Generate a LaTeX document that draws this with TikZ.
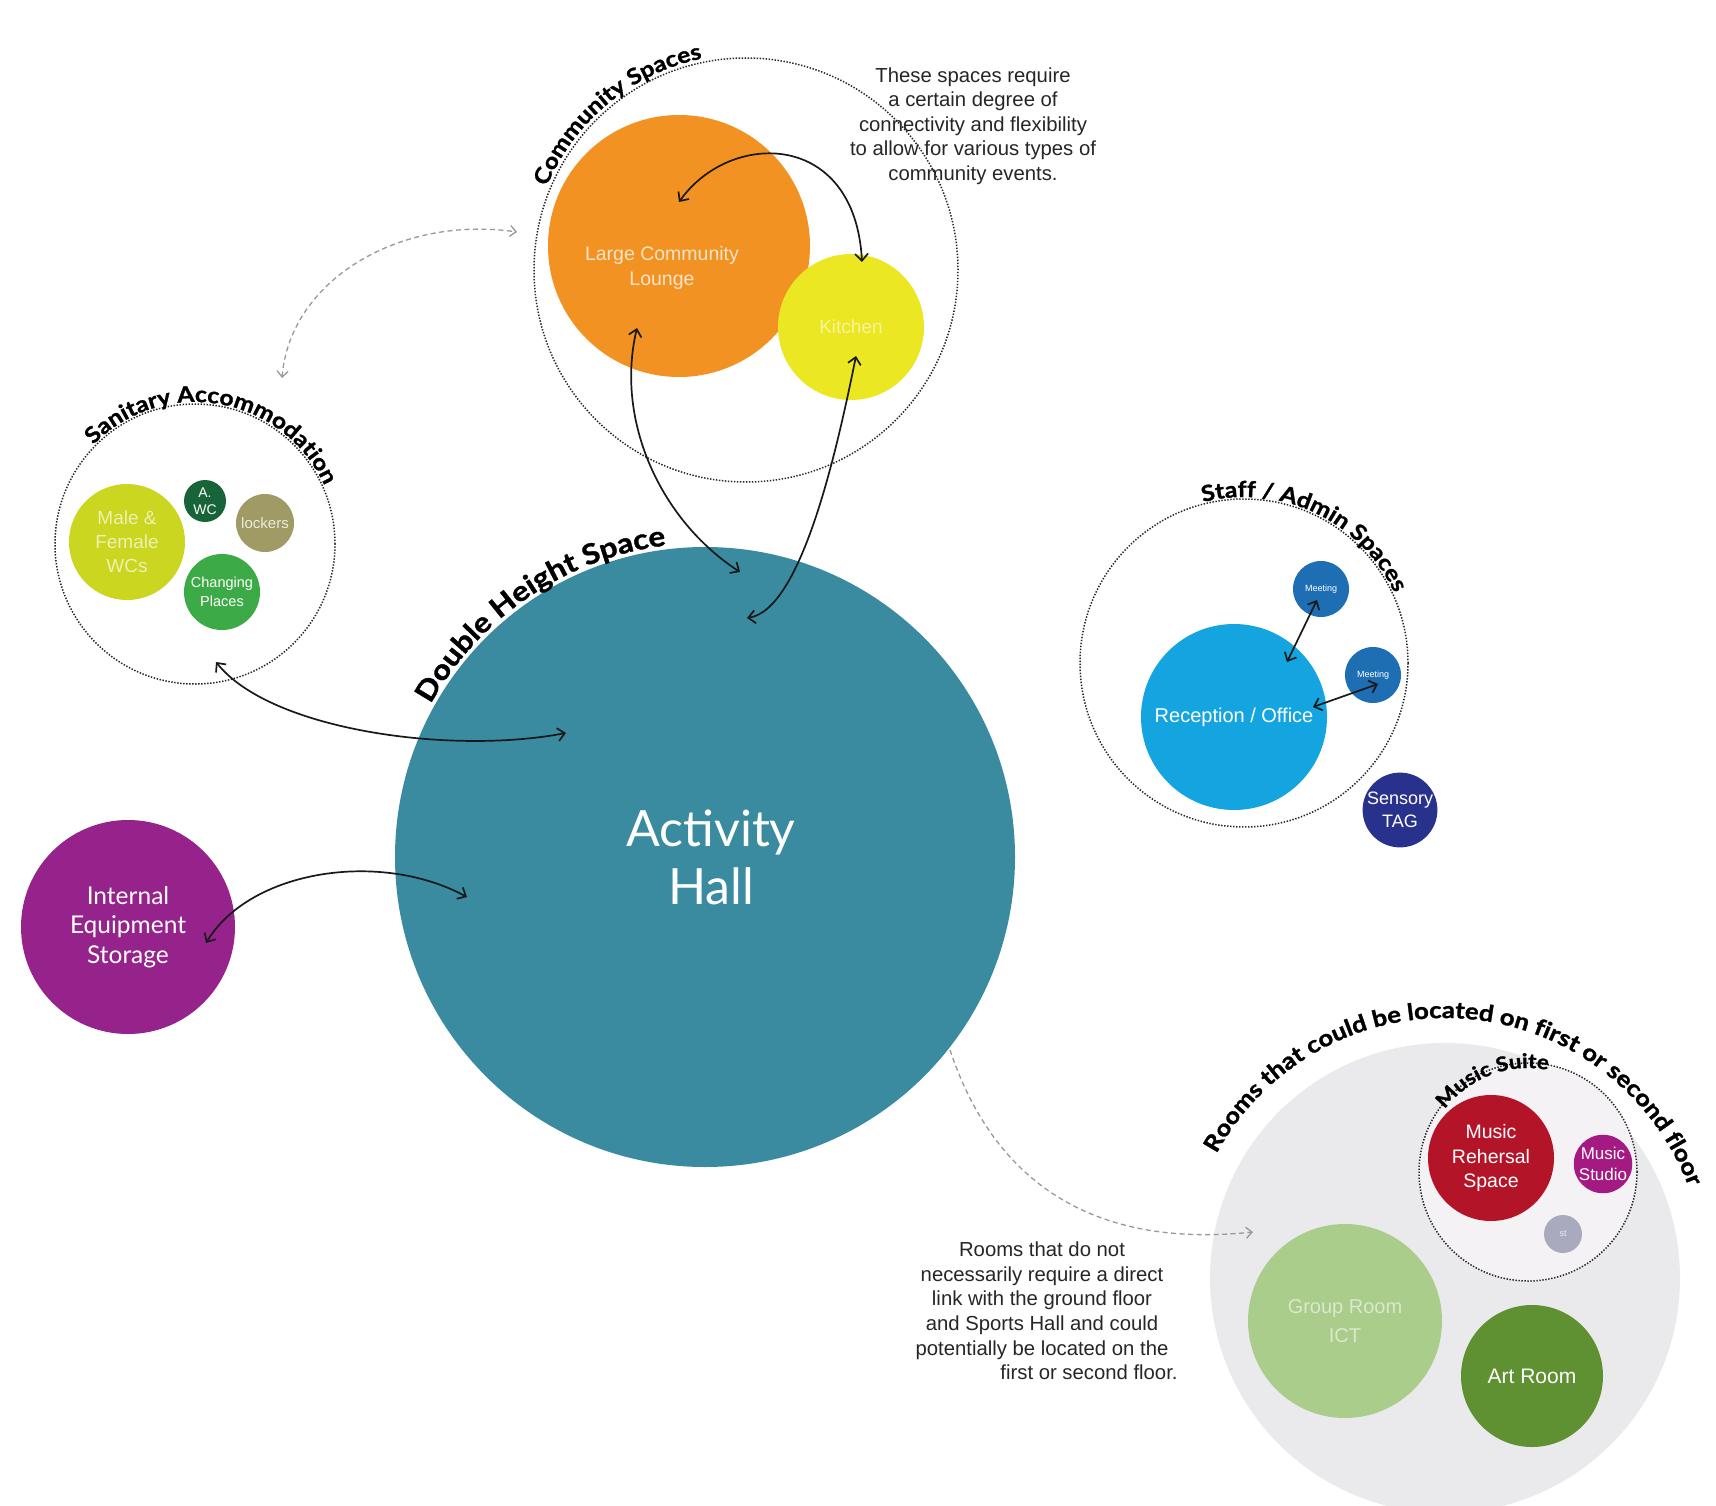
\documentclass[tikz,border=0pt]{standalone}
\usepackage{fontspec}
\setmainfont{Liberation Sans}
\newfontfamily\latofont{Lato}
\newfontfamily\titlefamily[FakeStretch=1.12,FakeBold=1.3]{Lato}
\usetikzlibrary{arrows.meta,decorations.text}
\definecolor{hallteal}{RGB}{58,139,160}
\definecolor{orangec}{RGB}{242,146,35}
\definecolor{yellowc}{RGB}{236,231,35}
\definecolor{ygreen}{RGB}{203,214,32}
\definecolor{dkgreen}{RGB}{22,100,55}
\definecolor{khaki}{RGB}{160,155,100}
\definecolor{chgreen}{RGB}{60,170,70}
\definecolor{lblue}{RGB}{20,165,225}
\definecolor{mblue}{RGB}{30,110,180}
\definecolor{navyc}{RGB}{40,50,140}
\definecolor{purplec}{RGB}{150,35,140}
\definecolor{crimson}{RGB}{180,20,40}
\definecolor{magentac}{RGB}{165,25,130}
\definecolor{greyc}{RGB}{170,170,190}
\definecolor{lgreen}{RGB}{170,205,140}
\definecolor{artgreen}{RGB}{95,145,50}
\definecolor{biggrey}{RGB}{234,234,237}
\definecolor{musicbg}{RGB}{244,242,245}
\newcommand\ttlA{\titlefamily\bfseries\fontsize{28}{32}\selectfont}
\newcommand\ttlB{\titlefamily\bfseries\fontsize{22}{26}\selectfont}
\newcommand\ttlC{\titlefamily\bfseries\fontsize{20}{24}\selectfont}
\newcommand\ttlD{\titlefamily\bfseries\fontsize{23}{27}\selectfont}
\begin{document}
\begin{tikzpicture}[x=1pt,y=1pt,
  room/.style={circle,inner sep=0pt,align=center,text=white},
  grp/.style={circle,draw=black!85,line width=1.5pt,dash pattern=on 1.4pt off 1.6pt,inner sep=0pt},
  link/.style={{Straight Barb[length=7pt,width=13pt]}-{Straight Barb[length=7pt,width=13pt]},line width=1.7pt,draw=black!90},
  dlink/.style={line width=1.3pt,draw=black!40,dash pattern=on 5pt off 3.5pt},
  note/.style={align=center,text=black!85,font=\fontsize{20.3}{24.6}\selectfont},
]
\fill[white] (0,0) rectangle (1716,-1506);
\path[use as bounding box] (0,0) rectangle (1716,-1506);

% ---- rooms on upper floors
\node[circle,fill=biggrey,minimum size=470pt,inner sep=0pt] (roomsbg) at (1445,-1278) {};
\node[grp,fill=musicbg,minimum size=218pt] (music) at (1528,-1172) {};
\node[room,fill=crimson,minimum size=126pt,font=\fontsize{19.5}{24.5}\selectfont] (rehearsal) at (1491,-1158) {Music\\Rehersal\\Space};
\node[room,fill=magentac,minimum size=58pt,font=\fontsize{17}{21}\selectfont] (studio) at (1603,-1164) {Music\\Studio};
\node[room,fill=greyc,minimum size=38pt,font=\fontsize{9}{10}\selectfont,text=white!75!greyc] (smallgrey) at (1563,-1234) {st};
\node[room,fill=lgreen,minimum size=194pt,font=\fontsize{20}{29}\selectfont,text=white!55!lgreen] (grouproom) at (1345,-1321) {Group Room\\ICT};
\node[room,fill=artgreen,minimum size=142pt,font=\fontsize{21}{25}\selectfont] (art) at (1532,-1376) {Art Room};

% ---- activity hall
\node[room,fill=hallteal,minimum size=620pt,font=\latofont\fontsize{50}{58}\selectfont] (hall) at (705,-857) {\hspace*{12pt}Activity\\\hspace*{12pt}Hall};

% ---- community
\node[grp,minimum size=424pt] (comm) at (746,-270) {};
\node[room,fill=orangec,minimum size=262pt] (lounge) at (679,-246) {};
\node[align=center,text=white!75!orangec,font=\fontsize{19.5}{25}\selectfont] (loungelbl) at (662,-268) {Large Community\\Lounge};
\node[room,fill=yellowc,minimum size=146pt,font=\fontsize{19}{23}\selectfont,text=white!55!yellowc] (kitchen) at (851,-327) {Kitchen};

% ---- sanitary
\node[grp,minimum size=280pt] (san) at (195,-544) {};
\node[room,fill=ygreen,minimum size=116pt,font=\fontsize{19}{24}\selectfont,text=white!65!ygreen] (wcs) at (127,-542) {Male \&\\Female\\WCs};
\node[room,fill=dkgreen,minimum size=42pt,font=\fontsize{14}{17}\selectfont] (awc) at (205,-501) {A.\\WC};
\node[room,fill=khaki,minimum size=58pt,font=\fontsize{15}{18}\selectfont,text=white!80!khaki] (lockers) at (265,-523) {lockers};
\node[room,fill=chgreen,minimum size=76pt,font=\fontsize{14.5}{19}\selectfont] (changing) at (222,-592) {Changing\\Places};

% ---- staff
\node[grp,minimum size=328pt] (staff) at (1244,-663) {};
\node[room,fill=lblue,minimum size=186pt,font=\fontsize{20}{24}\selectfont] (reception) at (1234,-717) {Reception / Office};
\node[room,fill=mblue,minimum size=56pt,font=\fontsize{9}{11}\selectfont] (meet1) at (1321,-589) {Meeting};
\node[room,fill=mblue,minimum size=56pt,font=\fontsize{9}{11}\selectfont] (meet2) at (1373,-675) {Meeting};
\node[room,fill=navyc,minimum size=74pt,font=\fontsize{18}{23}\selectfont] (sensory) at (1400,-810) {Sensory\\TAG};

% ---- storage
\node[room,fill=purplec,minimum size=214pt,font=\latofont\fontsize{24.5}{29.5}\selectfont] (storage) at (128,-927) {Internal\\Equipment\\Storage};

% ---- notes
\node[note] (note1) at (973,-126) {These spaces require\\a certain degree of\\connectivity and flexibility\\to allow for various types of\\community events.};
\node[note] (note2) at (1042,-1311) {Rooms that do not\\necessarily require a direct\\link with the ground floor\\and Sports Hall and could\\potentially be located on the\\\hspace*{94pt}first or second floor.};

% ---- curved titles
\path[decorate,decoration={text along path,text align=center,text={|\ttlA|Double Height Space}}]
  (hall.center) ++(169:314) arc[start angle=169,end angle=79,radius=314];
\path[decorate,decoration={text along path,text align=center,text={|\ttlB|Community Spaces}}]
  (comm.center) ++(189.5:216) arc[start angle=189.5,end angle=69.5,radius=216];
\path[decorate,decoration={text along path,text align=center,text={|\ttlB|Sanitary Accommodation}}]
  (san.center) ++(160:142) arc[start angle=160,end angle=0,radius=142];
\path[decorate,decoration={text along path,text align=center,text={|\ttlB|Staff  / Admin Spaces}}]
  (staff.center) ++(144.6:166) arc[start angle=144.6,end angle=-15.4,radius=166];
\path[decorate,decoration={text along path,text align=center,text={|\ttlD|Rooms that could be located on first or second floor}}]
  (roomsbg.center) ++(175:260) arc[start angle=175,end angle=-3,radius=260];
\path[decorate,decoration={text along path,text align=center,text={|\ttlC|Music Suite}}]
  (music.center) ++(171:104) arc[start angle=171,end angle=51,radius=104];

% ---- connector end points
\coordinate (l1) at (679,-202);
\coordinate (k1) at (862,-262);
\coordinate (l2) at (637,-328);
\coordinate (h2) at (740,-572);
\coordinate (k3) at (856,-356);
\coordinate (h3) at (747,-618);
\coordinate (s4) at (216,-662);
\coordinate (h4) at (566,-733);
\coordinate (st5) at (206,-943);
\coordinate (h5) at (467,-897);
\coordinate (r6) at (1287,-662);
\coordinate (m6) at (1317,-600);
\coordinate (r7) at (1313,-707);
\coordinate (m7) at (1378,-684);
\coordinate (sa) at (282,-378);
\coordinate (ca) at (517,-232);
\coordinate (hb) at (950,-1050);
\coordinate (rb) at (1253,-1232);

% ---- connectors
\draw[link] (l1) .. controls (730,-130) and (855,-130) .. (k1);
\draw[link] (l2) .. controls (615,-420) and (660,-520) .. (h2);
\draw[link] (k3) .. controls (835,-460) and (800,-610) .. (h3);
\draw[link] (s4) .. controls (270,-730) and (450,-755) .. (h4);
\draw[link] (st5) .. controls (250,-870) and (380,-850) .. (h5);
\draw[link] (r6) -- (m6);
\draw[link] (r7) -- (m7);
\draw[dlink,{Straight Barb[length=6pt,width=11pt]}-{Straight Barb[length=6pt,width=11pt]}] (sa) .. controls (290,-280) and (400,-215) .. (ca);
\draw[dlink,-{Straight Barb[length=6pt,width=11pt]}] (hb) .. controls (990,-1170) and (1080,-1250) .. (rb);
\end{tikzpicture}
\end{document}
